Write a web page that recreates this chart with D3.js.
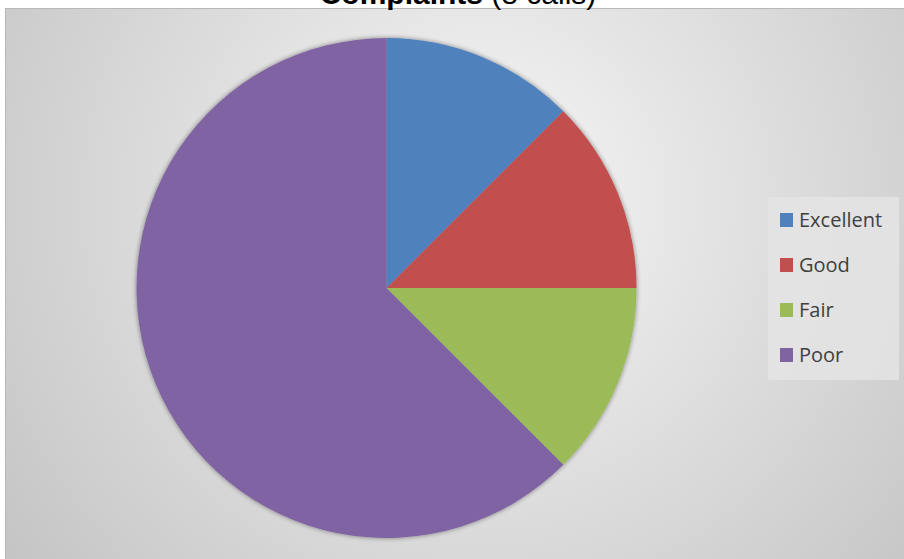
<!DOCTYPE html>
<html lang="en">
<head>
<meta charset="utf-8">
<title>Complaints</title>
<style>
  body { margin: 0; background: #fff; }
  svg { display: block; }
  .legend text { font-family: "Open Sans", sans-serif; font-size: 20px; fill: #404040; }
  .title { font-family: "Liberation Sans", Arial, sans-serif; font-size: 30px; fill: #000; }
</style>
</head>
<body>
<svg width="904" height="559"></svg>
<script src="https://d3js.org/d3.v7.min.js"></script>
<script>
// chart data
var categories = ["Excellent", "Good", "Fair", "Poor"];
var counts = [1, 1, 1, 5];
var colors = ["#4F81BD", "#C0504D", "#9BBB59", "#8064A2"];
var titleBold = "Complaints";
var titleRest = " (8 calls)";

var svg = d3.select("svg");
var defs = svg.append("defs");

var grad = defs.append("radialGradient")
    .attr("id", "bg")
    .attr("gradientUnits", "userSpaceOnUse")
    .attr("cx", 480).attr("cy", 200).attr("r", 620);
grad.append("stop").attr("offset", "0%").attr("stop-color", "#f7f7f7");
grad.append("stop").attr("offset", "100%").attr("stop-color", "#c2c2c2");

var shadow = defs.append("filter").attr("id", "shadow")
    .attr("x", "-10%").attr("y", "-10%").attr("width", "120%").attr("height", "120%");
shadow.append("feGaussianBlur").attr("in", "SourceAlpha").attr("stdDeviation", 2.5).attr("result", "blur");
shadow.append("feOffset").attr("in", "blur").attr("dx", 0).attr("dy", 0).attr("result", "off");
shadow.append("feComponentTransfer").attr("in", "off").attr("result", "sh")
  .append("feFuncA").attr("type", "linear").attr("slope", 0.45);
var merge = shadow.append("feMerge");
merge.append("feMergeNode").attr("in", "sh");
merge.append("feMergeNode").attr("in", "SourceGraphic");

// chart area
svg.append("rect")
    .attr("x", 5.5).attr("y", 8.5)
    .attr("width", 920).attr("height", 580)
    .attr("fill", "url(#bg)")
    .attr("stroke", "#b8b8b8")
    .attr("stroke-width", 1);

// title (cut off at top like the original)
var title = svg.append("text")
    .attr("class", "title")
    .attr("x", 458).attr("y", 4)
    .attr("text-anchor", "middle");
title.append("tspan").attr("font-weight", "bold").text(titleBold);
title.append("tspan").text(titleRest);

// pie
var cx = 386.5, cy = 288, radius = 250;
var pie = d3.pie().sort(null).value(function(d) { return d; });
var arc = d3.arc().innerRadius(0).outerRadius(radius);

var pieG = svg.append("g")
    .attr("transform", "translate(" + cx + "," + cy + ")")
    .attr("filter", "url(#shadow)");

pieG.selectAll("path")
    .data(pie(counts))
    .enter()
    .append("path")
    .attr("d", arc)
    .attr("fill", function(d, i) { return colors[i]; });

// legend
var legend = svg.append("g").attr("class", "legend");
legend.append("rect")
    .attr("x", 768).attr("y", 197)
    .attr("width", 131).attr("height", 183)
    .attr("fill", "#e4e4e4")
    .attr("opacity", 0.85);

var rowY = d3.scalePoint().domain(categories).range([220, 355]);

var items = legend.selectAll("g.item")
    .data(categories)
    .enter()
    .append("g")
    .attr("class", "item")
    .attr("transform", function(d) { return "translate(780," + rowY(d) + ")"; });

items.append("rect")
    .attr("x", 0).attr("y", -7)
    .attr("width", 13).attr("height", 14)
    .attr("fill", function(d, i) { return colors[i]; });

items.append("text")
    .attr("x", 19).attr("y", 7)
    .text(function(d) { return d; });
</script>
</body>
</html>
